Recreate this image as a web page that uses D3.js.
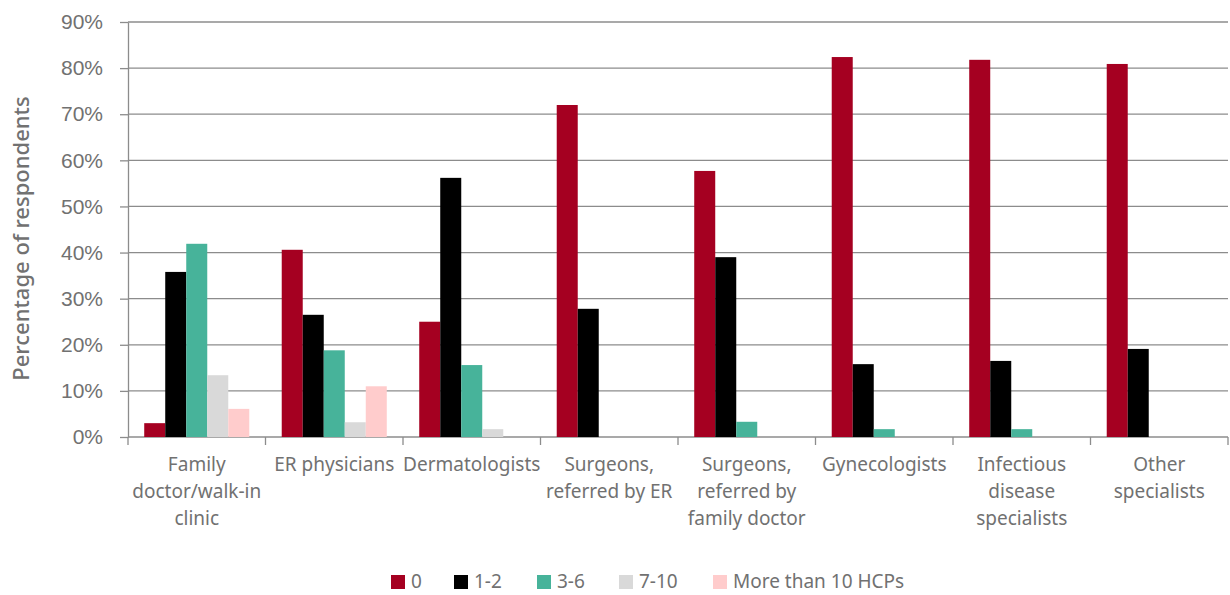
<!DOCTYPE html>
<html>
<head>
<meta charset="utf-8">
<script src="https://cdn.jsdelivr.net/npm/d3@7"></script>
<style>
  body { margin: 0; background: #fff; }
  svg { font-family: "Source Sans Pro", "Noto Sans", Lato, sans-serif; }
</style>
</head>
<body>
<div id="chart"></div>
<script>
// categories (multi-line labels)
const categories = [
  ["Family", "doctor/walk-in", "clinic"],
  ["ER physicians"],
  ["Dermatologists"],
  ["Surgeons,", "referred by ER"],
  ["Surgeons,", "referred by", "family doctor"],
  ["Gynecologists"],
  ["Infectious", "disease", "specialists"],
  ["Other", "specialists"]
];
const seriesNames = ["0", "1-2", "3-6", "7-10", "More than 10 HCPs"];
const seriesColors = ["#a50021", "#000000", "#47b39a", "#d9d9d9", "#ffcccc"];

// percentage values per series, one per category
const s0    = [3.0, 40.6, 25.0, 72.0, 57.7, 82.4, 81.8, 80.9];
const s1_2  = [35.8, 26.5, 56.2, 27.8, 39.0, 15.8, 16.5, 19.1];
const s3_6  = [41.9, 18.8, 15.6, 0, 3.3, 1.7, 1.7, 0];
const s7_10 = [13.4, 3.2, 1.7, 0, 0, 0, 0, 0];
const s10p  = [6.1, 11.0, 0, 0, 0, 0, 0, 0];
const series = [s0, s1_2, s3_6, s7_10, s10p];

const yTicks = [0, 10, 20, 30, 40, 50, 60, 70, 80, 90];

const width = 1230, height = 595;
const margin = { top: 22, right: 2, bottom: 158, left: 128 };
const textColor = "#717171";
const lineColor = "#8c8c8c";

const svg = d3.select("#chart").append("svg")
  .attr("width", width)
  .attr("height", height);

const x0 = d3.scaleBand()
  .domain(d3.range(categories.length))
  .range([margin.left, width - margin.right])
  .paddingInner(0.236)
  .paddingOuter(0.118);

const x1 = d3.scaleBand()
  .domain(d3.range(series.length))
  .range([0, x0.bandwidth()]);

const y = d3.scaleLinear()
  .domain([0, 90])
  .range([height - margin.bottom, margin.top]);

// gridlines
svg.append("g")
  .selectAll("line")
  .data(yTicks)
  .join("line")
  .attr("x1", margin.left)
  .attr("x2", width - margin.right)
  .attr("y1", d => y(d))
  .attr("y2", d => y(d))
  .attr("stroke", lineColor)
  .attr("stroke-width", 1.3);

// y axis
const yAxis = svg.append("g")
  .attr("transform", `translate(${margin.left},0)`)
  .call(d3.axisLeft(y).tickValues(yTicks).tickFormat(d => d + "%").tickSize(8).tickSizeOuter(0).tickPadding(17));
yAxis.select(".domain").attr("stroke", lineColor).attr("stroke-width", 1.3);
yAxis.selectAll(".tick line").attr("stroke", lineColor).attr("stroke-width", 1.3);
yAxis.selectAll("text")
  .attr("fill", textColor)
  .style("font-size", "21px")
  .style("font-family", "inherit");

// x axis: ticks at category boundaries
const bounds = d3.range(categories.length + 1).map(i => margin.left + i * x0.step());
svg.append("g")
  .selectAll("line")
  .data(bounds)
  .join("line")
  .attr("x1", d => d).attr("x2", d => d)
  .attr("y1", y(0)).attr("y2", y(0) + 8)
  .attr("stroke", lineColor)
  .attr("stroke-width", 1.3);

// bars
const groups = svg.append("g")
  .selectAll("g")
  .data(categories.map((c, i) => i))
  .join("g")
  .attr("transform", i => `translate(${x0(i)},0)`);

groups.selectAll("rect")
  .data(i => series.map((s, k) => ({ k, v: s[i] })))
  .join("rect")
  .attr("x", d => x1(d.k))
  .attr("width", x1.bandwidth())
  .attr("y", d => y(d.v))
  .attr("height", d => y(0) - y(d.v))
  .attr("fill", d => seriesColors[d.k]);

// category labels
const labels = svg.append("g")
  .selectAll("text")
  .data(categories)
  .join("text")
  .attr("x", (d, i) => x0(i) + x0.bandwidth() / 2)
  .attr("y", y(0) + 34)
  .attr("text-anchor", "middle")
  .attr("fill", textColor)
  .style("font-size", "19px");
labels.selectAll("tspan")
  .data(d => d)
  .join("tspan")
  .attr("x", function () { return d3.select(this.parentNode).attr("x"); })
  .attr("dy", (d, i) => i === 0 ? 0 : 27)
  .text(d => d);

// y axis title
svg.append("text")
  .attr("transform", `translate(29,${(margin.top + y(0)) / 2 + 9}) rotate(-90)`)
  .attr("text-anchor", "middle")
  .attr("fill", textColor)
  .style("font-size", "22px")
  .style("font-weight", "500")
  .text("Percentage of respondents");

// legend
const legendX = [391, 454, 537, 619, 713];
const legend = svg.append("g")
  .selectAll("g")
  .data(seriesNames)
  .join("g")
  .attr("transform", (d, i) => `translate(${legendX[i]},575)`);
legend.append("rect")
  .attr("width", 14).attr("height", 14)
  .attr("fill", (d, i) => seriesColors[i]);
legend.append("text")
  .attr("x", 20).attr("y", 13)
  .attr("fill", textColor)
  .style("font-size", "19px")
  .text(d => d);
</script>
</body>
</html>
